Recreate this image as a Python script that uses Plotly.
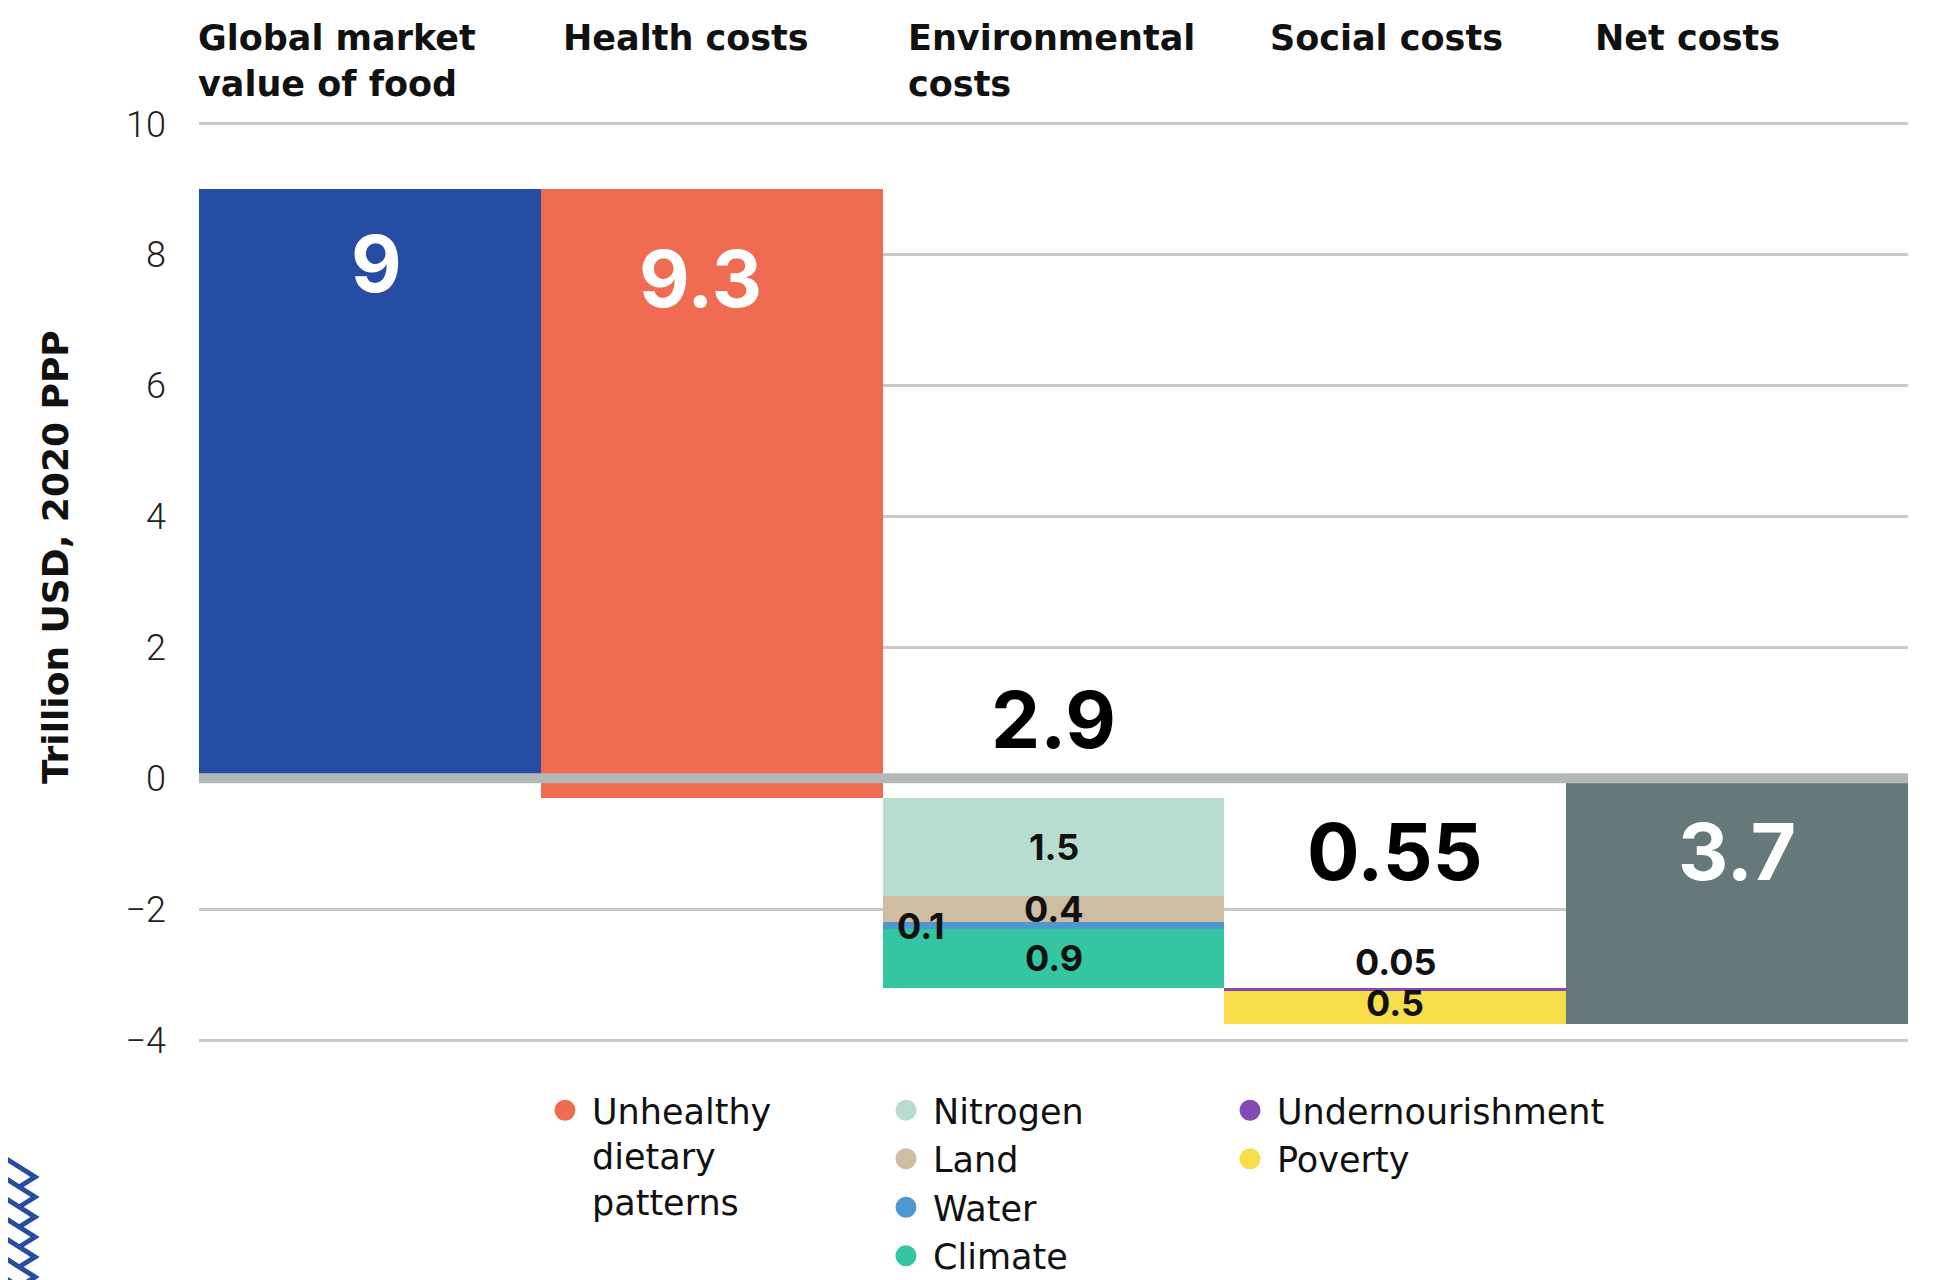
import plotly.graph_objects as go

# ---------------- data ----------------
categories = ["Global market<br>value of food", "Health costs", "Environmental<br>costs",
              "Social costs", "Net costs"]
market_value = 9.0
health_items = ["Unhealthy<br>dietary<br>patterns"]
health_values = [9.3]
env_items = ["Nitrogen", "Land", "Water", "Climate"]
env_values = [1.5, 0.4, 0.1, 0.9]
social_items = ["Undernourishment", "Poverty"]
social_values = [0.05, 0.5]
total_labels = ["9", "9.3", "2.9", "0.55", "3.7"]
env_labels = ["1.5", "0.4", "0.1", "0.9"]
social_labels = ["0.05", "0.5"]
y_ticks = [-4, -2, 0, 2, 4, 6, 8, 10]

# ---------------- styles ----------------
c_market = "#274ca3"
c_net = "#66797a"
item_colors = {
    "Unhealthy<br>dietary<br>patterns": "#ef6b52",
    "Nitrogen": "#b8ddd0",
    "Land": "#d0bca3",
    "Water": "#4e98cf",
    "Climate": "#33c6a0",
    "Undernourishment": "#8549b3",
    "Poverty": "#f8dd4a",
}
NUM_FONT = "Inter"
TXT_FONT = "DejaVu Sans"

# layout geometry (figure pixels)
ML, MR, MT, MB = 191, 36, 114, 246
PW, PH = 1936 - ML - MR, 1280 - MT - MB
OFF = 8  # page body margin


def paper_x(ref_px):
    return (ref_px - OFF - ML) / PW


def paper_y(ref_py):
    return (MT + PH - (ref_py - OFF)) / PH


fig = go.Figure()


def add_bar(xi, base, val, color):
    fig.add_trace(go.Bar(x=[xi], y=[val], base=[base], width=1.0,
                         marker=dict(color=color, line=dict(width=0)),
                         showlegend=False, hoverinfo="skip"))


# waterfall bars
add_bar(0, 0, market_value, c_market)
running = market_value
seg_mid = {}
for name, v in zip(health_items, health_values):
    add_bar(1, running, -v, item_colors[name])
    running -= v
for name, v in zip(env_items, env_values):
    add_bar(2, running, -v, item_colors[name])
    seg_mid[name] = running - v / 2
    running -= v
for name, v in zip(social_items, social_values):
    add_bar(3, running, -v, item_colors[name])
    seg_mid[name] = running - v / 2
    running -= v
net_value = running
add_bar(4, 0, net_value, c_net)

# legend traces (circle symbols)
legend_groups = [("legend", health_items), ("legend2", env_items), ("legend3", social_items)]
for lg, items in legend_groups:
    for name in items:
        fig.add_trace(go.Scatter(x=[None], y=[None], mode="markers", name=name,
                                 marker=dict(symbol="circle", size=16, color=item_colors[name],
                                             line=dict(width=5, color=item_colors[name])),
                                 legend=lg, showlegend=True, hoverinfo="skip"))

annotations = []
# column headers
header_shift = [-3, 20, 23, 44, 27]
for i, cat in enumerate(categories):
    annotations.append(dict(x=i - 0.5, xref="x", y=paper_y(16), yref="paper",
                            text=cat, showarrow=False, xanchor="left", yanchor="top",
                            align="left", xshift=header_shift[i],
                            font=dict(family=TXT_FONT, size=35, color="#111", weight="bold")))

# big total labels
big_pos = [(0, market_value, 7, -74, "white"),
           (1, market_value, -11, -89, "white"),
           (2, 0, 0, 59, "black"),
           (3, 0, 0, -73, "black"),
           (4, 0, 0, -73, "white")]
for (xi, yv, xs, ys, col), lab in zip(big_pos, total_labels):
    annotations.append(dict(x=xi, y=yv, xref="x", yref="y", text=lab, showarrow=False,
                            xshift=xs, yshift=ys, xanchor="center", yanchor="middle",
                            font=dict(family=NUM_FONT, size=78, color=col, weight="bold")))

# segment labels
small_font = dict(family=NUM_FONT, size=36, color="#111", weight="bold")
for name, lab in zip(env_items, env_labels):
    if name == "Water":
        annotations.append(dict(x=1.5, y=seg_mid[name], xref="x", yref="y", text=lab,
                                showarrow=False, xanchor="left", yanchor="middle", xshift=12,
                                font=small_font))
    else:
        annotations.append(dict(x=2, y=seg_mid[name], xref="x", yref="y", text=lab,
                                showarrow=False, xanchor="center", yanchor="middle",
                                font=small_font))
for name, lab in zip(social_items, social_labels):
    ys = 27 if name == "Undernourishment" else 4
    annotations.append(dict(x=3, y=seg_mid[name], xref="x", yref="y", text=lab,
                            showarrow=False, xanchor="center", yanchor="middle", yshift=ys,
                            font=small_font))

# y-axis title
annotations.append(dict(x=paper_x(55), y=paper_y(557), xref="paper", yref="paper",
                        text="Trillion USD, 2020 PPP", textangle=-90, showarrow=False,
                        xanchor="center", yanchor="middle",
                        font=dict(family=TXT_FONT, size=36, color="#111", weight="bold")))

# heavy zero line drawn over the bars
shapes = [dict(type="line", xref="paper", x0=0, x1=1, yref="y", y0=0, y1=0,
               line=dict(color="#b3b8b8", width=10), layer="above")]

# decorative logo (bottom-left corner, partly cut off)
path = ""
for T in [1177, 1197, 1217, 1237, 1257, 1277, 1297]:
    path += (f"M {paper_x(-6)},{paper_y(T - 26)} L {paper_x(35)},{paper_y(T)} "
             f"L {paper_x(19)},{paper_y(T + 10)} ")
shapes.append(dict(type="path", xref="paper", yref="paper", path=path,
                   line=dict(color="#274ca3", width=5), layer="above"))

legend_common = dict(xref="container", yref="container", xanchor="left", yanchor="top",
                     bgcolor="rgba(0,0,0,0)", valign="top", itemwidth=44,
                     font=dict(family=TXT_FONT, size=35, color="#111"),
                     itemclick=False, itemdoubleclick=False)
legend_y = 1 - 1073 / 1280

fig.update_layout(
    width=1936, height=1280,
    paper_bgcolor="white", plot_bgcolor="white",
    margin=dict(l=ML, r=MR, t=MT, b=MB, autoexpand=False),
    barmode="overlay", bargap=0,
    annotations=annotations, shapes=shapes,
    legend=dict(x=530 / 1936, y=legend_y, **legend_common),
    legend2=dict(x=871 / 1936, y=legend_y, **legend_common),
    legend3=dict(x=1215 / 1936, y=legend_y, **legend_common),
    xaxis=dict(range=[-0.5, 4.5], showgrid=False, zeroline=False, showticklabels=False,
               ticks="", showline=False, fixedrange=True),
    yaxis=dict(range=[-4.03, 10.03], tickvals=y_ticks, showgrid=True, gridcolor="#c8cbcb",
               gridwidth=3, zeroline=False, showline=False, ticks="",
               ticklabelstandoff=32,
               tickfont=dict(family="Roboto", size=36, color="#222", weight=300),
               fixedrange=True),
    showlegend=True,
)

fig.write_html("out.html")
